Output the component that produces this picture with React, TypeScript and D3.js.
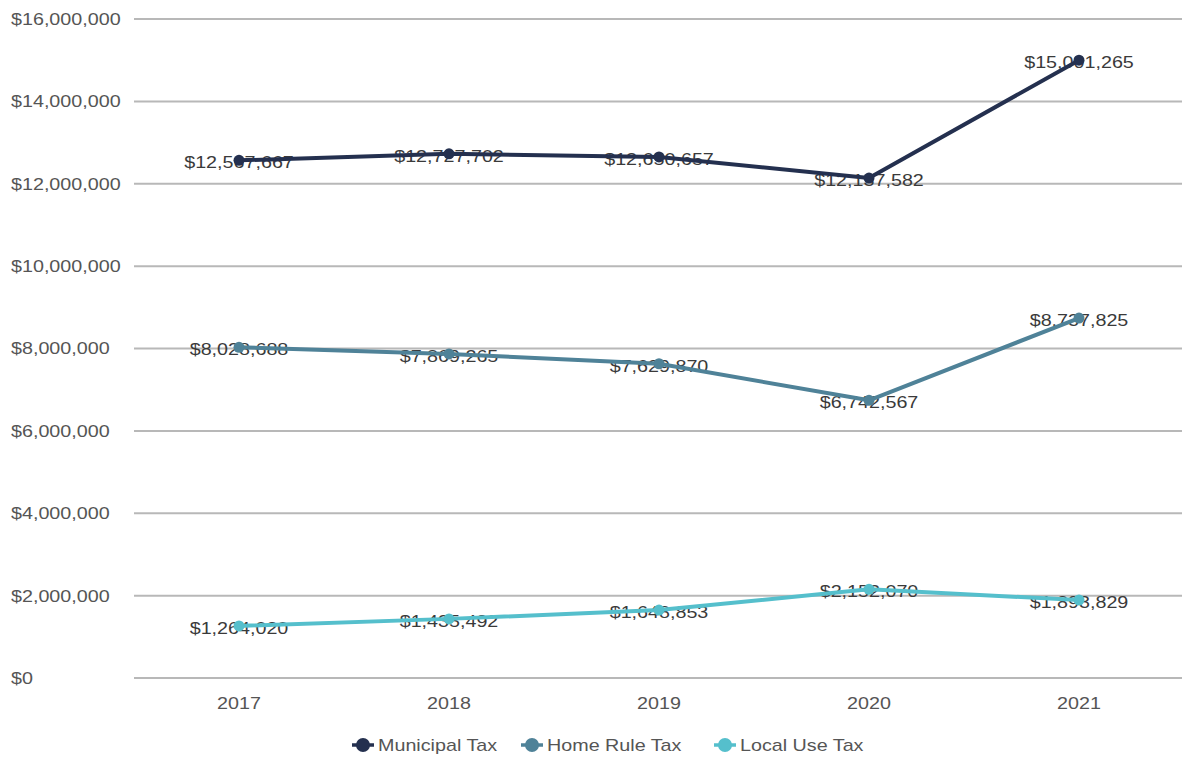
import React from "react";
import * as d3 from "d3";

const years = ["2017", "2018", "2019", "2020", "2021"];
const municipalTax = [12567667, 12727702, 12650657, 12137582, 15001265];
const homeRuleTax = [8028688, 7869265, 7629870, 6742567, 8737825];
const localUseTax = [1264020, 1435492, 1648853, 2152070, 1893829];
const yTicks = [0, 2000000, 4000000, 6000000, 8000000, 10000000, 12000000, 14000000, 16000000];
const seriesNames = ["Municipal Tax", "Home Rule Tax", "Local Use Tax"];
const seriesColors = ["#24304f", "#4f8298", "#55bfcc"];

const W = 1184;
const H = 759;
const plot = { left: 134, right: 1184, top: 19, bottom: 678 };
const FS = 17;
const SX = 1.16;

type LabelProps = {
  x: number;
  y: number;
  anchor?: "start" | "middle" | "end";
  fill: string;
  children: React.ReactNode;
};

// Text rendered slightly wide, anchored at (x, y)
function Label({ x, y, anchor = "start", fill, children }: LabelProps) {
  return (
    <text
      transform={`translate(${x},${y}) scale(${SX},1)`}
      dy="0.35em"
      textAnchor={anchor}
      fontSize={FS}
      fill={fill}
    >
      {children}
    </text>
  );
}

export default function App() {
  const x = d3.scaleBand<string>().domain(years).range([plot.left, plot.right]);
  const y = d3.scaleLinear().domain([0, 16000000]).range([plot.bottom, plot.top]);
  const cx = (yr: string) => (x(yr) as number) + x.bandwidth() / 2;
  const money = (v: number) => "$" + d3.format(",")(v);
  const series = [municipalTax, homeRuleTax, localUseTax];
  const line = d3
    .line<number>()
    .x((_, i) => cx(years[i]))
    .y((v) => y(v));

  const legendItems = [
    { x: 352, name: seriesNames[0], color: seriesColors[0] },
    { x: 521, name: seriesNames[1], color: seriesColors[1] },
    { x: 714, name: seriesNames[2], color: seriesColors[2] },
  ];

  return (
    <svg
      width={W}
      height={H}
      style={{ position: "absolute", left: 0, top: 0, background: "#fff" }}
      fontFamily="'Liberation Sans', Arial, sans-serif"
    >
      {yTicks.map((t) => (
        <g key={t}>
          <line x1={plot.left} x2={plot.right - 2} y1={y(t)} y2={y(t)} stroke="#b8b8b8" strokeWidth={2} />
          <Label x={11} y={y(t)} fill="#555">
            {money(t)}
          </Label>
        </g>
      ))}
      {years.map((yr) => (
        <Label key={yr} x={cx(yr)} y={703} anchor="middle" fill="#555">
          {yr}
        </Label>
      ))}
      {series.map((vals, si) =>
        vals.map((v, i) => (
          <Label key={`l${si}-${i}`} x={cx(years[i])} y={y(v) + 2} anchor="middle" fill="#3a3a3a">
            {money(v)}
          </Label>
        ))
      )}
      {series.map((vals, si) => (
        <g key={`s${si}`}>
          <path d={line(vals) || ""} fill="none" stroke={seriesColors[si]} strokeWidth={4} strokeLinejoin="round" />
          {vals.map((v, i) => (
            <circle key={i} cx={cx(years[i])} cy={y(v)} r={5.5} fill={seriesColors[si]} />
          ))}
        </g>
      ))}
      {legendItems.map((it) => (
        <g key={it.name}>
          <line x1={it.x} x2={it.x + 22} y1={745} y2={745} stroke={it.color} strokeWidth={3.5} />
          <circle cx={it.x + 11} cy={745} r={7} fill={it.color} />
          <Label x={it.x + 26} y={745} fill="#555">
            {it.name}
          </Label>
        </g>
      ))}
    </svg>
  );
}
